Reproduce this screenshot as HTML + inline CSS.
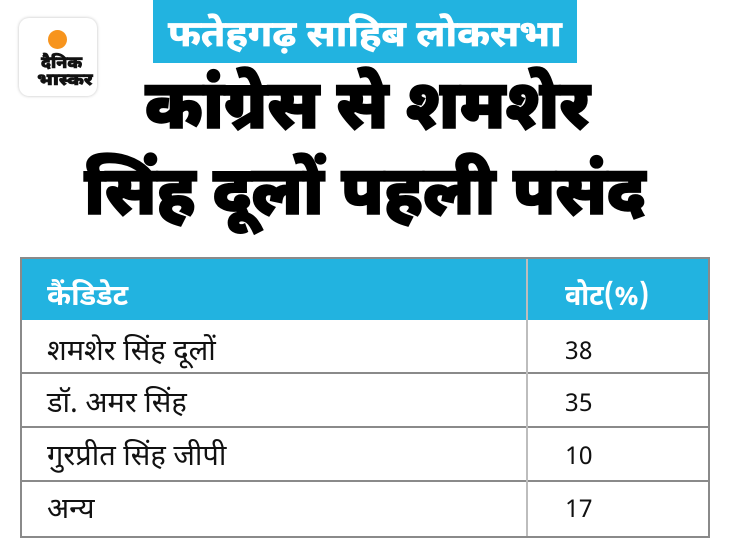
<!DOCTYPE html>
<html><head><meta charset="utf-8">
<style>
html,body{margin:0;padding:0;background:#fff;}
body{width:730px;height:560px;position:relative;overflow:hidden;font-family:"Noto Sans Devanagari","Lohit Devanagari","Mukta","Hind","Liberation Sans",sans-serif;}
.logo{position:absolute;left:19px;top:18px;width:78px;height:78px;border-radius:10px;background:#fff;box-shadow:0 0 3px rgba(0,0,0,0.25);}
.dot{position:absolute;left:48px;top:29.5px;width:19px;height:19px;border-radius:50%;background:#f7941d;}
.lt{position:absolute;font-weight:900;font-size:17px;color:#111;line-height:17px;white-space:nowrap;transform-origin:0 0;-webkit-text-stroke:0.6px #111;}
.banner{position:absolute;left:153px;top:0;width:424px;height:63px;background:#22b3e0;}
.bt{position:absolute;left:168px;top:17.7px;color:#fff;font-weight:bold;font-size:36px;line-height:40px;white-space:nowrap;transform-origin:0 0;transform:scaleX(1.10);-webkit-text-stroke:0.7px #fff;}
.title{position:absolute;font-weight:900;color:#000;font-size:68px;line-height:90px;white-space:nowrap;transform-origin:0 0;-webkit-text-stroke:1.4px #000;}
.tbl{position:absolute;left:20px;top:257px;width:690px;height:281px;border:2px solid #8a8a8a;box-sizing:border-box;}
.hdr{position:absolute;left:0;top:0;width:100%;height:61px;background:#22b3e0;}
.hl{position:absolute;left:0;width:100%;height:2px;background:#8a8a8a;}
.vl{position:absolute;left:504px;top:0;width:2px;height:100%;background:#bdbdbd;}
.c{position:absolute;font-size:29px;color:#111;white-space:nowrap;line-height:30px;}
.n{position:absolute;font-size:25px;color:#111;white-space:nowrap;line-height:30px;}
.h{color:#fff;font-weight:bold;}
</style></head>
<body>
<div class="logo"></div>
<div class="dot"></div>
<div class="lt" style="left:41px;top:56px;">दैनिक</div>
<div class="lt" style="left:37px;top:73px;transform:scaleX(1.12);">भास्कर</div>

<div class="banner"></div>
<div class="bt">फतेहगढ़ साहिब लोकसभा</div>

<div class="title" style="left:145px;top:67px;transform:scaleX(0.98);">कांग्रेस से शमशेर</div>
<div class="title" style="left:84px;top:153px;transform:scaleX(0.975);">सिंह दूलों पहली पसंद</div>

<div class="tbl">
  <div class="hdr"></div>
  <div class="hl" style="top:113px;"></div>
  <div class="hl" style="top:167px;"></div>
  <div class="hl" style="top:221px;"></div>
  <div class="vl"></div>
  <div class="c h" style="left:25px;top:23.5px;">कैंडिडेट</div>
  <div class="c h" style="left:543px;top:23.5px;transform-origin:0 0;transform:scaleX(0.93);">वोट(%)</div>
  <div class="c" style="left:25px;top:78.5px;">शमशेर सिंह दूलों</div>
  <div class="n" style="left:543px;top:79.5px;">38</div>
  <div class="c" style="left:25px;top:130.5px;">डॉ. अमर सिंह</div>
  <div class="n" style="left:543px;top:131.5px;">35</div>
  <div class="c" style="left:25px;top:183.5px;">गुरप्रीत सिंह जीपी</div>
  <div class="n" style="left:543px;top:185px;">10</div>
  <div class="c" style="left:25px;top:236.5px;">अन्य</div>
  <div class="n" style="left:543px;top:237.5px;">17</div>
</div>
</body></html>
